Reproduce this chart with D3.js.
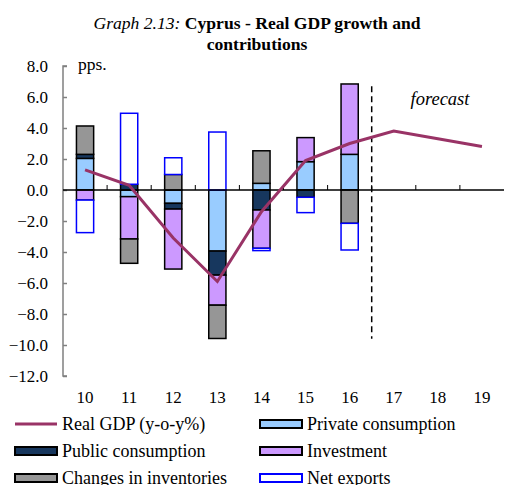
<!DOCTYPE html>
<html>
<head>
<meta charset="utf-8">
<script src="https://cdn.jsdelivr.net/npm/d3@7"></script>
<style>
  body { margin: 0; background: #fff; }
  text { font-family: 'Liberation Serif', 'Times New Roman', serif; }
</style>
</head>
<body>
<div id="chart"></div>
<script>
const years = ['10', '11', '12', '13', '14', '15', '16', '17', '18', '19']
const yTicks = [8, 6, 4, 2, 0, -2, -4, -6, -8, -10, -12]

// contributions, pps (years 10-16)
const privateCons = [2.04, -0.43, -0.86, -3.94, 0.43, 1.83, 2.3]
const publicCons = [0.26, 0.37, -0.37, -1.55, -1.29, -0.47, 0]
const investment = [-0.65, -2.73, -3.87, -1.94, -2.47, 1.55, 4.54]
const inventories = [1.83, -1.57, 1.0, -2.15, 2.1, 0, -2.15]
const netExports = [-2.1, 4.58, 1.08, 3.74, -0.15, -0.99, -1.72]
const realGdp = [1.3, 0.3, -3.1, -5.9, -1.4, 1.9, 3.0, 3.8, 3.3, 2.8]

const seriesNames = ['Private consumption', 'Public consumption', 'Investment', 'Changes in inventories', 'Net exports']
const seriesValues = [privateCons, publicCons, investment, inventories, netExports]
const fills = ['#99ccff', '#17375e', '#cc99ff', '#969696', '#ffffff']
const strokes = ['#000', '#000', '#000', '#000', '#0000ff']
const lineColor = '#993366'

const width = 505
const height = 485

const svg = d3.select('#chart')
  .append('svg')
  .attr('width', width)
  .attr('height', height)

const x = d3.scaleBand()
  .domain(years)
  .range([63, 504])
  .paddingInner(0.61)
  .paddingOuter(0.305)

const y = d3.scaleLinear()
  .domain([-12, 8])
  .range([376, 66])

// title
const title = svg.append('text')
  .attr('x', 257)
  .attr('y', 29)
  .attr('text-anchor', 'middle')
  .attr('font-size', 17.6)
title.append('tspan').attr('font-style', 'italic').text('Graph 2.13: ')
title.append('tspan').attr('font-weight', 'bold').text('Cyprus - Real GDP growth and')
svg.append('text')
  .attr('x', 257)
  .attr('y', 50)
  .attr('text-anchor', 'middle')
  .attr('font-size', 17.6)
  .attr('font-weight', 'bold')
  .text('contributions')

// stacked data
const rows = years.slice(0, 7).map((yr, i) => {
  const r = { year: yr }
  seriesNames.forEach((n, j) => { r[n] = seriesValues[j][i] })
  return r
})
const stacked = d3.stack()
  .keys(seriesNames)
  .offset(d3.stackOffsetDiverging)(rows)

stacked.forEach((layer, j) => {
  svg.append('g')
    .selectAll('rect')
    .data(layer.filter(d => d[1] !== d[0]))
    .enter()
    .append('rect')
    .attr('x', d => x(d.data.year))
    .attr('width', x.bandwidth())
    .attr('y', d => y(Math.max(d[0], d[1])))
    .attr('height', d => Math.abs(y(d[0]) - y(d[1])))
    .attr('fill', fills[j])
    .attr('stroke', strokes[j])
    .attr('stroke-width', 1.5)
})

// y axis
const yAxis = svg.append('g')
  .attr('transform', 'translate(63,0)')
  .call(d3.axisRight(y).tickValues(yTicks).tickSize(4).tickFormat(''))
yAxis.select('.domain').attr('stroke', '#808080').attr('stroke-width', 1.5)
  .attr('d', 'M4,' + y(8) + 'H0V' + y(-12) + 'H4')
yAxis.selectAll('.tick line').attr('stroke', '#808080').attr('stroke-width', 1.5)

svg.append('g')
  .selectAll('text')
  .data(yTicks)
  .enter()
  .append('text')
  .attr('x', 48)
  .attr('y', d => y(d) + 6)
  .attr('text-anchor', 'end')
  .attr('font-size', 17)
  .text(d => d3.format('.1f')(d))

// x axis at zero
const step = x.step()
svg.append('line')
  .attr('x1', 63).attr('x2', 504)
  .attr('y1', y(0)).attr('y2', y(0))
  .attr('stroke', '#000').attr('stroke-width', 1.5)
svg.append('g')
  .selectAll('line')
  .data(years.slice(1))
  .enter()
  .append('line')
  .attr('x1', d => x(d) - step * 0.305)
  .attr('x2', d => x(d) - step * 0.305)
  .attr('y1', y(0)).attr('y2', y(0) - 5)
  .attr('stroke', '#000').attr('stroke-width', 1)

svg.append('g')
  .selectAll('text')
  .data(years)
  .enter()
  .append('text')
  .attr('x', d => x(d) + x.bandwidth() / 2)
  .attr('y', 403)
  .attr('text-anchor', 'middle')
  .attr('font-size', 17)
  .text(d => d)

svg.append('text')
  .attr('x', 78).attr('y', 70)
  .attr('font-size', 17.5)
  .text('pps.')

// forecast marker
const fx = x('17') - step * 0.305
svg.append('line')
  .attr('x1', fx).attr('x2', fx)
  .attr('y1', y(6.7)).attr('y2', y(-9.6))
  .attr('stroke', '#000').attr('stroke-width', 1.5)
  .attr('stroke-dasharray', '6,4')
svg.append('text')
  .attr('x', 440).attr('y', 105)
  .attr('text-anchor', 'middle')
  .attr('font-size', 18.5)
  .attr('font-style', 'italic')
  .text('forecast')

// GDP line
const line = d3.line()
  .x((d, i) => x(years[i]) + x.bandwidth() / 2)
  .y(d => y(d))
svg.append('path')
  .datum(realGdp)
  .attr('d', line)
  .attr('fill', 'none')
  .attr('stroke', lineColor)
  .attr('stroke-width', 3)

// legend
const legendItems = [
  { name: 'Real GDP (y-o-y%)', type: 'line', col: 0, row: 0 },
  { name: 'Private consumption', fill: fills[0], stroke: strokes[0], col: 1, row: 0 },
  { name: 'Public consumption', fill: fills[1], stroke: strokes[1], col: 0, row: 1 },
  { name: 'Investment', fill: fills[2], stroke: strokes[2], col: 1, row: 1 },
  { name: 'Changes in inventories', fill: fills[3], stroke: strokes[3], col: 0, row: 2 },
  { name: 'Net exports', fill: fills[4], stroke: strokes[4], col: 1, row: 2 }
]
const legend = svg.append('g')
  .selectAll('g')
  .data(legendItems)
  .enter()
  .append('g')
  .attr('transform', d => 'translate(' + (d.col ? 260 : 15) + ',' + (424 + d.row * 27) + ')')

legend.filter(d => d.type === 'line')
  .append('line')
  .attr('x1', 0).attr('x2', 42)
  .attr('stroke', lineColor).attr('stroke-width', 3)
legend.filter(d => d.type !== 'line')
  .append('rect')
  .attr('x', 0).attr('y', -4)
  .attr('width', 42).attr('height', 8)
  .attr('fill', d => d.fill)
  .attr('stroke', d => d.stroke)
  .attr('stroke-width', 2)
legend.append('text')
  .attr('x', 47)
  .attr('y', 6)
  .attr('font-size', 18)
  .text(d => d.name)
</script>
</body>
</html>
